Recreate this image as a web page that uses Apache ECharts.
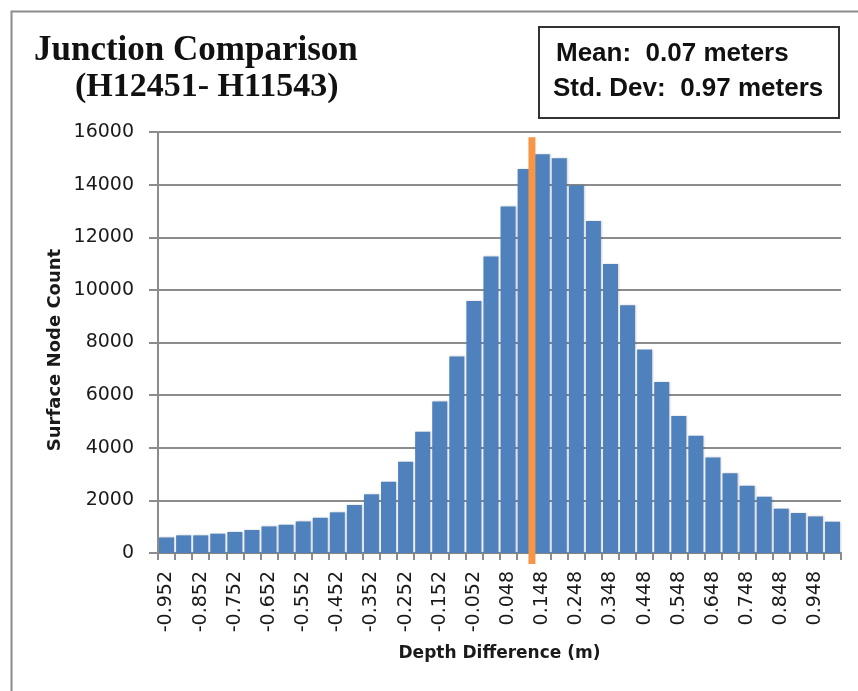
<!DOCTYPE html>
<html>
<head>
<meta charset="utf-8">
<script src="https://cdn.jsdelivr.net/npm/echarts@6/dist/echarts.min.js"></script>
<style>
  html, body { margin: 0; padding: 0; background: #ffffff; }
  #chart { width: 858px; height: 691px; }
</style>
</head>
<body>
<div id="chart"></div>
<script>
// Histogram bins (bin centre, metres)
const binLabels = [
  '-0.952', '-0.902', '-0.852', '-0.802', '-0.752', '-0.702', '-0.652', '-0.602',
  '-0.552', '-0.502', '-0.452', '-0.402', '-0.352', '-0.302', '-0.252', '-0.202',
  '-0.152', '-0.102', '-0.052', '-0.002', '0.048', '0.098', '0.148', '0.198',
  '0.248', '0.298', '0.348', '0.398', '0.448', '0.498', '0.548', '0.598',
  '0.648', '0.698', '0.748', '0.798', '0.848', '0.898', '0.948', '0.998'
];

// Surface node count per bin
const nodeCounts = [
  590, 670, 670, 735, 800, 875, 1010, 1075,
  1200, 1340, 1545, 1825, 2230, 2710, 3470, 4610,
  5760, 7470, 9580, 11270, 13170, 14590, 15150, 15000,
  13970, 12620, 10980, 9420, 7730, 6500, 5210, 4460,
  3630, 3030, 2560, 2140, 1685, 1520, 1390, 1190
];

// Y axis ticks
const yTicks = [0, 2000, 4000, 6000, 8000, 10000, 12000, 14000, 16000];

// Extent of the bin edges (first bin left edge, last bin right edge)
const binEdges = [-0.977, 1.023];
// Position of the marker line on the bin-edge scale, and its vertical span
const markerPosition = [0.118];
const markerSpan = [-420, 15800];

const statLines = ['Mean:  0.07 meters', 'Std. Dev:  0.97 meters'];
const titleLines = ['Junction Comparison', '(H12451- H11543)'];
const yAxisTitle = 'Surface Node Count';

const chart = echarts.init(document.getElementById('chart'), null, { renderer: 'canvas' });

const axisFont = '"DejaVu Sans", "Liberation Sans", sans-serif';
const boxFont = '"Liberation Sans", "DejaVu Sans", sans-serif';
const serifFont = '"Liberation Serif", "DejaVu Serif", serif';

const option = {
  backgroundColor: '#ffffff',
  animation: false,
  grid: { left: 158, right: 17, top: 132, bottom: 138, containLabel: false },
  xAxis: [
    {
      type: 'category',
      data: binLabels,
      boundaryGap: true,
      name: 'Depth Difference (m)',
      nameLocation: 'middle',
      nameGap: 92,
      nameTextStyle: { fontFamily: axisFont, fontWeight: 'bold', fontSize: 17, color: '#1a1a1a' },
      axisLine: { show: true, onZero: false, lineStyle: { color: '#8c8c8c', width: 2 } },
      axisTick: { show: true, interval: 0, length: 7, lineStyle: { color: '#8c8c8c', width: 2 } },
      axisLabel: {
        interval: 1,
        rotate: 90,
        margin: 18,
        fontFamily: axisFont,
        fontSize: 19,
        color: '#1a1a1a'
      },
      splitLine: { show: false }
    },
    {
      type: 'value',
      min: binEdges[0],
      max: binEdges[1],
      show: false
    }
  ],
  yAxis: {
    type: 'value',
    min: yTicks[0],
    max: yTicks[yTicks.length - 1],
    interval: yTicks[1] - yTicks[0],
    axisLine: { show: true, onZero: false, lineStyle: { color: '#8c8c8c', width: 2 } },
    axisTick: { show: true, length: 9, lineStyle: { color: '#8c8c8c', width: 2 } },
    axisLabel: {
      margin: 24,
      fontFamily: axisFont,
      fontSize: 19,
      color: '#1a1a1a',
      formatter: (v) => String(v)
    },
    splitLine: { show: true, lineStyle: { color: '#8c8c8c', width: 2 } }
  },
  series: [
    {
      type: 'bar',
      xAxisIndex: 0,
      data: nodeCounts,
      barCategoryGap: '12%',
      itemStyle: {
        color: '#4f81bd',
        shadowColor: 'rgba(0,0,0,0.18)',
        shadowBlur: 2,
        shadowOffsetX: 1
      },
      z: 2
    },
    {
      type: 'line',
      xAxisIndex: 1,
      data: [[markerPosition[0], markerSpan[0]], [markerPosition[0], markerSpan[1]]],
      symbol: 'none',
      clip: false,
      lineStyle: { color: '#f79646', width: 7, cap: 'butt' },
      z: 5
    }
  ],
  graphic: [
    {
      type: 'rect',
      left: 9, top: 9,
      shape: { width: 900, height: 800 },
      style: { fill: 'none', stroke: '#8c8c8c', lineWidth: 2 },
      silent: true
    },
    {
      type: 'text',
      x: 55, y: 350,
      rotation: Math.PI / 2,
      style: {
        text: yAxisTitle,
        font: 'bold 18px ' + axisFont,
        fill: '#1a1a1a',
        align: 'center',
        verticalAlign: 'middle'
      }
    },
    {
      type: 'text',
      left: 34, top: 33,
      style: { text: titleLines[0], font: 'bold 35px ' + serifFont, fill: '#111111' }
    },
    {
      type: 'text',
      left: 75, top: 70,
      style: { text: titleLines[1], font: 'bold 34px ' + serifFont, fill: '#111111' }
    },
    {
      type: 'rect',
      left: 538, top: 26,
      shape: { width: 300, height: 91 },
      style: { fill: '#ffffff', stroke: '#333333', lineWidth: 2 }
    },
    {
      type: 'text',
      left: 556, top: 41,
      style: { text: statLines[0], font: 'bold 26px ' + boxFont, fill: '#111111' }
    },
    {
      type: 'text',
      left: 553, top: 76,
      style: { text: statLines[1], font: 'bold 26px ' + boxFont, fill: '#111111' }
    }
  ]
};

chart.setOption(option);
</script>
</body>
</html>
